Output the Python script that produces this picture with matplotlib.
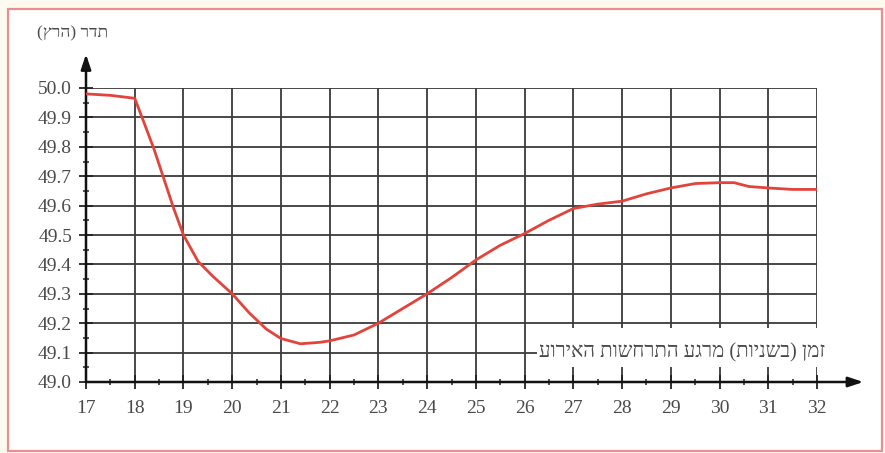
import matplotlib
matplotlib.use("Agg")
import matplotlib.pyplot as plt
from matplotlib.patches import Rectangle
from matplotlib.ticker import MultipleLocator, FormatStrFormatter

# Grid frequency after a generation trip: time (s) vs frequency (Hz)
time_s = [17, 17.5, 18, 18.15, 18.4, 18.6, 18.8, 19.0, 19.3, 19.6, 20.0,
          20.35, 20.7, 21.0, 21.4, 21.8, 22.0, 22.5, 23.0, 23.5, 24.0,
          24.5, 25.0, 25.5, 26.0, 26.5, 27.0, 27.5, 28.0, 28.5, 29.0,
          29.5, 30.0, 30.3, 30.6, 31.0, 31.5, 32.0]
freq_hz = [49.98, 49.975, 49.965, 49.9, 49.79, 49.69, 49.59, 49.5, 49.41,
           49.36, 49.30, 49.235, 49.18, 49.148, 49.13, 49.135, 49.14, 49.16,
           49.2, 49.25, 49.3, 49.355, 49.415, 49.465, 49.505, 49.55, 49.59,
           49.605, 49.615, 49.64, 49.66, 49.675, 49.678, 49.678, 49.665,
           49.66, 49.655, 49.655]

x_ticks = list(range(17, 33))
y_ticks = [49.0, 49.1, 49.2, 49.3, 49.4, 49.5, 49.6, 49.7, 49.8, 49.9, 50.0]

# Hebrew strings are stored in visual (left-to-right drawing) order
y_title = "(ץרה) רדת"          # "תדר (הרץ)"
x_title = "עוריאה תושחרתה עגרמ (תוינשב) ןמז"   # "זמן (בשניות) מרגע התרחשות האירוע"

serif = ["Liberation Serif", "DejaVu Sans"]
txt_col = "#4a4a4a"
grid_col = "#3a3a3a"
line_col = "#e2443c"

fig = plt.figure(figsize=(8.85, 4.53), dpi=100)
fig.patch.set_facecolor("#fdfbf0")
fig.patches.append(Rectangle((8 / 885, 2 / 453), 874 / 885, 442 / 453,
                             transform=fig.transFigure, facecolor="white",
                             edgecolor="#e89090", linewidth=1.6, zorder=0))

ax = fig.add_axes([86 / 885, 71 / 453, 731 / 885, 294 / 453])
ax.set_zorder(2)
ax.set_facecolor("none")
ax.set_xlim(17, 32)
ax.set_ylim(49.0, 50.0)
for s in ax.spines.values():
    s.set_visible(False)

# grid
ax.vlines(x_ticks[1:], 49.0, 50.0, colors=grid_col, linewidth=1.3, zorder=1)
ax.hlines(y_ticks[1:], 17, 32, colors=grid_col, linewidth=1.3, zorder=1)

# axes with arrows
ax.annotate("", xy=(32.95, 49.0), xytext=(17, 49.0), annotation_clip=False,
            arrowprops=dict(arrowstyle="-|>,head_length=0.9,head_width=0.3",
                            color="#111111", lw=1.8, shrinkA=0, shrinkB=0),
            zorder=4)
ax.annotate("", xy=(17, 50.115), xytext=(17, 49.0), annotation_clip=False,
            arrowprops=dict(arrowstyle="-|>,head_length=0.9,head_width=0.3",
                            color="#111111", lw=1.8, shrinkA=0, shrinkB=0),
            zorder=4)

# ticks
ax.xaxis.set_major_locator(MultipleLocator(1))
ax.xaxis.set_minor_locator(MultipleLocator(0.5))
ax.yaxis.set_major_locator(MultipleLocator(0.1))
ax.yaxis.set_minor_locator(MultipleLocator(0.05))
ax.yaxis.set_major_formatter(FormatStrFormatter("%.1f"))
ax.tick_params(which="major", direction="inout", length=10, width=1.3,
               color="#222222", labelcolor=txt_col, labelsize=14)
ax.tick_params(which="minor", direction="inout", length=4, width=1.1,
               color="#222222")
ax.tick_params(axis="x", pad=8)
ax.tick_params(axis="y", pad=5)
for lab in ax.get_xticklabels() + ax.get_yticklabels():
    lab.set_family(serif)

# frequency curve
ax.plot(time_s, freq_hz, color=line_col, linewidth=2.0, zorder=5,
        solid_capstyle="round", solid_joinstyle="round")

# x-axis title sits on a white band over the grid
ax.add_patch(Rectangle((26.25, 49.05), 6.5, 0.135, facecolor="white",
                       edgecolor="none", zorder=2, clip_on=False))
ax.text(26.3, 49.1, x_title, ha="left", va="center", fontsize=14.8,
        family=serif, color=txt_col, zorder=3, clip_on=False)

fig.text(73 / 885, 1 - 33 / 453, y_title, ha="center", va="center",
         fontsize=12.5, family=serif, color=txt_col)

fig.savefig("out.png", dpi=100, facecolor=fig.get_facecolor())
